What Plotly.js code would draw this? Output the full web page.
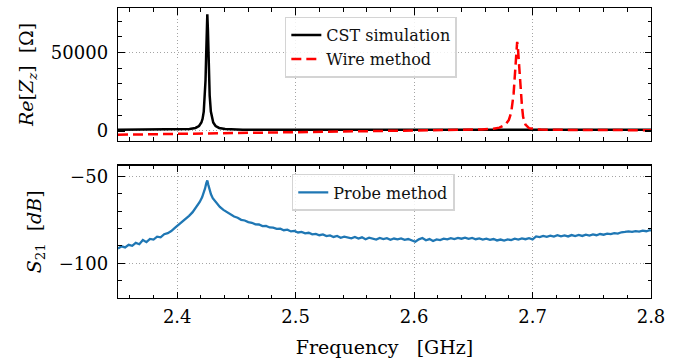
<!DOCTYPE html>
<html>
<head>
<meta charset="utf-8">
<script src="https://cdn.plot.ly/plotly-3.0.1.min.js"></script>
<style>html,body{margin:0;padding:0;background:#fff;}#chart{width:693px;height:364px;}</style>
</head>
<body>
<div id="chart"></div>
<script>
// ---- Data ----
// CST simulation: Re[Z_z] (Ohm) vs frequency (GHz)
const cstFreq = [2.35, 2.375, 2.3954, 2.4054, 2.4104, 2.4154, 2.4184, 2.4204, 2.4214, 2.4224, 2.4234, 2.4239, 2.4244, 2.4249, 2.4254,
  2.4259, 2.4264, 2.4269, 2.4274, 2.4284, 2.4294, 2.4304, 2.4324, 2.4354, 2.4404, 2.4454, 2.4554, 2.4754, 2.55, 2.65, 2.8];
const cstRe = [722, 750, 838, 1010, 1249, 1922, 3153, 5361, 7729, 12335, 22559, 32272, 46929, 64807, 74300,
  64807, 46929, 32272, 22559, 12335, 7729, 5361, 3153, 1922, 1249, 1010, 838, 750, 711, 705, 702];

// Wire method: Re[Z_z] (Ohm) vs frequency (GHz)
const wireFreq = [2.35, 2.40, 2.45, 2.50, 2.55, 2.60, 2.637, 2.657, 2.667, 2.672, 2.677, 2.680, 2.682, 2.683, 2.684, 2.685, 2.6855, 2.686, 2.6865, 2.687,
  2.6875, 2.688, 2.6885, 2.689, 2.690, 2.691, 2.692, 2.694, 2.697, 2.702, 2.707, 2.717, 2.737, 2.8];
const wireRe = [-2400, -1900, -1300, -700, -200, 200, 590, 940, 1460, 2130, 3940, 6990, 11850, 16380, 23600, 34800, 41800, 48900, 54500, 56700,
  54500, 48900, 41800, 34800, 23600, 16380, 9000, 4000, 1800, 1100, 900, 700, 600, 500];

// Probe method: S21 (dB) vs frequency (GHz)
const probeFreq = [2.350, 2.353, 2.356, 2.359, 2.362, 2.365, 2.368, 2.371, 2.374, 2.377, 2.380, 2.383, 2.386, 2.389, 2.392, 2.395, 2.398,
  2.401, 2.404, 2.407, 2.410, 2.413, 2.416, 2.419, 2.421, 2.4225, 2.4235, 2.4245, 2.4254, 2.4262, 2.4272, 2.4285, 2.430, 2.433, 2.436, 2.439,
  2.442, 2.445, 2.448, 2.451, 2.454, 2.457, 2.460, 2.463, 2.466, 2.469, 2.472, 2.475, 2.478, 2.481, 2.484, 2.487, 2.490, 2.493, 2.496, 2.499,
  2.502, 2.505, 2.508, 2.511, 2.514, 2.517, 2.520, 2.523, 2.526, 2.529, 2.532, 2.535, 2.538, 2.541, 2.544, 2.547, 2.550, 2.553, 2.556, 2.559,
  2.562, 2.565, 2.568, 2.571, 2.574, 2.577, 2.580, 2.583, 2.586, 2.589, 2.592, 2.595, 2.598, 2.601, 2.604, 2.607, 2.610, 2.613, 2.616, 2.619,
  2.622, 2.625, 2.628, 2.631, 2.634, 2.637, 2.640, 2.643, 2.646, 2.649, 2.652, 2.655, 2.658, 2.661, 2.664, 2.667, 2.670, 2.673, 2.676, 2.679,
  2.682, 2.685, 2.688, 2.691, 2.694, 2.697, 2.700, 2.703, 2.706, 2.709, 2.712, 2.715, 2.718, 2.721, 2.724, 2.727, 2.730, 2.733, 2.736, 2.739,
  2.742, 2.745, 2.748, 2.751, 2.754, 2.757, 2.760, 2.763, 2.766, 2.769, 2.772, 2.775, 2.778, 2.781, 2.784, 2.787, 2.790, 2.793, 2.796, 2.799, 2.800];
const probeS21 = [-91.5, -90.2, -90.8, -89.3, -89.9, -88.2, -89.0, -86.6, -87.8, -85.9, -86.3, -84.6, -85.0, -83.2, -82.6, -81.4, -79.6,
  -77.9, -76.4, -74.8, -72.6, -70.5, -67.6, -64.6, -61.9, -59.2, -56.8, -53.8, -52.2, -54.6, -57.3, -60.2, -62.4, -65.3, -67.5, -69.2,
  -70.6, -71.7, -73.0, -73.7, -74.9, -75.3, -76.2, -76.6, -77.5, -77.6, -78.5, -78.4, -79.3, -79.4, -80.1, -80.0, -80.9, -80.6, -81.6, -81.3,
  -82.2, -81.9, -82.7, -82.4, -83.3, -83.0, -83.8, -83.3, -84.3, -83.9, -84.8, -84.2, -85.3, -84.6, -85.1, -85.6, -84.8, -85.7, -85.0, -86.1,
  -85.2, -85.9, -86.3, -85.4, -86.0, -85.5, -86.4, -85.7, -86.2, -85.6, -86.5, -86.0, -86.8, -87.6, -86.2, -85.4, -86.7, -86.0, -87.1, -86.2,
  -86.6, -85.8, -86.2, -85.5, -86.0, -85.3, -85.8, -85.2, -85.9, -85.4, -86.1, -85.6, -86.3, -85.8, -86.5, -86.0, -86.8, -86.3, -86.9, -86.2,
  -86.6, -85.8, -86.3, -85.6, -86.1, -85.5, -86.2, -84.5, -84.9, -84.2, -84.7, -84.0, -84.6, -83.8, -84.4, -83.9, -84.5, -83.7, -84.3, -83.6,
  -84.2, -83.5, -84.0, -83.3, -83.8, -83.1, -83.5, -82.9, -83.2, -82.6, -82.9, -82.1, -81.9, -81.6, -81.9, -81.4, -81.7, -81.2, -81.5, -80.9, -81.2];

// Tick labels
const xTicks = [2.4, 2.5, 2.6, 2.7, 2.8];
const xTickText = ['2.4', '2.5', '2.6', '2.7', '2.8'];
const zTicks = [0, 50000];
const zTickText = ['0', '50000'];
const sTicks = [-50, -100];
const sTickText = ['\u221250', '\u2212100'];

// ---- Plot ----
const FONT = 'DejaVu Serif, Liberation Serif, serif';
const gridStyle = {showgrid: true, gridcolor: '#9a9a9a', griddash: '1px,2.5px', gridwidth: 0.9};
const axBase = {
  showline: true, linecolor: '#000', linewidth: 1.3, mirror: 'allticks',
  ticks: 'inside', ticklen: 6.5, tickwidth: 1.1, tickcolor: '#000',
  zeroline: false, tickfont: {family: FONT, size: 18, color: '#000'}
};

const traces = [
  {x: cstFreq, y: cstRe, type: 'scatter', mode: 'lines', name: 'CST simulation',
   line: {color: '#000000', width: 2.5}, xaxis: 'x', yaxis: 'y', legend: 'legend'},
  {x: wireFreq, y: wireRe, type: 'scatter', mode: 'lines', name: 'Wire method',
   line: {color: '#ff0000', width: 2.5, dash: '10px,5px'}, xaxis: 'x', yaxis: 'y', legend: 'legend'},
  {x: probeFreq, y: probeS21, type: 'scatter', mode: 'lines', name: 'Probe method',
   line: {color: '#1f77b4', width: 2.3}, xaxis: 'x2', yaxis: 'y2', legend: 'legend2'}
];

const legendBase = {
  bgcolor: 'rgba(255,255,255,0.85)', bordercolor: '#d4d4d4', borderwidth: 1.5,
  font: {family: FONT, size: 16, color: '#111'}, xanchor: 'left', yanchor: 'top'
};

const layout = {
  width: 693, height: 364,
  margin: {l: 118, r: 42, t: 8, b: 66},
  paper_bgcolor: '#fff', plot_bgcolor: '#fff',
  showlegend: true,
  xaxis: Object.assign({}, axBase, gridStyle, {
    domain: [0, 1], anchor: 'y', range: [2.35, 2.8], tickvals: xTicks, ticktext: xTickText,
    showticklabels: false,
    minor: {dtick: 0.02, tick0: 2.4, ticks: 'inside', ticklen: 3.5, tickwidth: 1, tickcolor: '#000', showgrid: false}
  }),
  yaxis: Object.assign({}, axBase, gridStyle, {
    domain: [0.5424, 1], anchor: 'x', range: [-6200, 78300], tickvals: zTicks, ticktext: zTickText,
    ticklabelstandoff: 5,
    minor: {dtick: 10000, tick0: 0, ticks: 'inside', ticklen: 3.5, tickwidth: 1, tickcolor: '#000', showgrid: false},
    title: {text: '<i>Re</i>[<i>Z<sub>z</sub></i>]  [\u03A9]', font: {family: FONT, size: 19, color: '#000'}, standoff: 12}
  }),
  xaxis2: Object.assign({}, axBase, gridStyle, {
    domain: [0, 1], anchor: 'y2', range: [2.35, 2.8], tickvals: xTicks, ticktext: xTickText,
    ticklabelstandoff: 2,
    minor: {dtick: 0.02, tick0: 2.4, ticks: 'inside', ticklen: 3.5, tickwidth: 1, tickcolor: '#000', showgrid: false},
    title: {text: 'Frequency\u00A0\u00A0\u00A0[GHz]', font: {family: FONT, size: 19, color: '#000'}, standoff: 14}
  }),
  yaxis2: Object.assign({}, axBase, gridStyle, {
    domain: [0, 0.4562], anchor: 'x2', range: [-120, -43.7], tickvals: sTicks, ticktext: sTickText,
    ticklabelstandoff: 5,
    minor: {dtick: 10, tick0: 0, ticks: 'inside', ticklen: 3.5, tickwidth: 1, tickcolor: '#000', showgrid: false},
    title: {text: '<i>S</i><sub>21</sub>  [<i>dB</i>]', font: {family: FONT, size: 19, color: '#000'}, standoff: 12}
  }),
  legend: Object.assign({}, legendBase, {x: 0.313, y: 0.97}),
  legend2: Object.assign({}, legendBase, {x: 0.326, y: 0.4276})
};

Plotly.newPlot('chart', traces, layout, {displayModeBar: false, staticPlot: true});
</script>
</body>
</html>
